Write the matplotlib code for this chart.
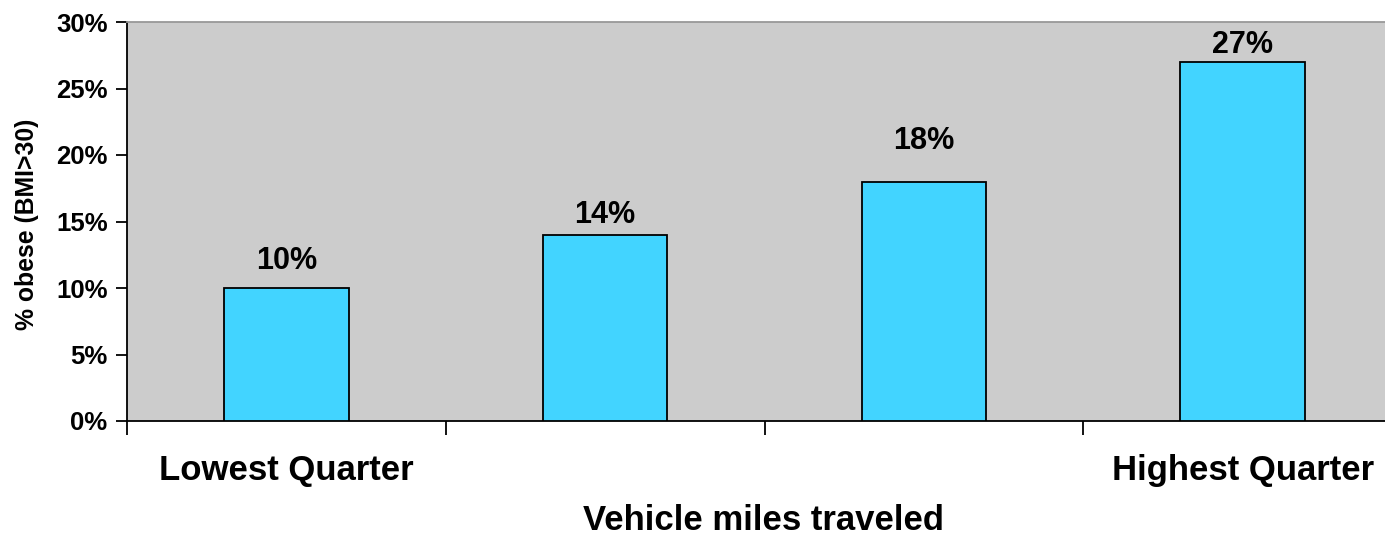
import matplotlib
matplotlib.use("Agg")
import matplotlib.pyplot as plt
from matplotlib.ticker import FixedLocator, PercentFormatter

plt.rcParams['font.family'] = ['Liberation Sans', 'DejaVu Sans']
plt.rcParams['font.weight'] = 'bold'

# obesity share by quarter of vehicle miles traveled
quarters = ["Lowest Quarter", "", "", "Highest Quarter"]
obese_pct = [10, 14, 18, 27]
label_offsets = [19.5, 14, 29.5, 12.5]   # points from bar top to label centre

BAR = "#42D4FF"
BG = "#CCCCCC"

fig = plt.figure(figsize=(13.85, 5.34), dpi=100)
ax = fig.add_axes([127 / 1385, 113 / 534, 1275 / 1385, 399 / 534])
ax.set_facecolor(BG)

x = range(len(obese_pct))
ax.bar(x, obese_pct, width=0.39, color=BAR, edgecolor="black", linewidth=1.3, zorder=3)

for xi, v, off in zip(x, obese_pct, label_offsets):
    ax.annotate(f"{v}%", (xi, v), xytext=(0, off), textcoords="offset points",
                ha="center", va="center", fontsize=22, fontweight="bold")

ax.set_xlim(-0.5, len(obese_pct) - 0.5)
ax.set_ylim(0, 30)
ax.yaxis.set_major_locator(FixedLocator(range(0, 31, 5)))
ax.yaxis.set_major_formatter(PercentFormatter(decimals=0))
ax.tick_params(axis="y", direction="out", length=8, width=1.3, labelsize=18.5, pad=6)

# category labels at centers, tick marks at boundaries
ax.set_xticks(list(x))
ax.set_xticklabels(quarters, fontsize=25, fontweight="bold")
ax.set_xticks([i - 0.5 for i in range(len(obese_pct) + 1)], minor=True)
ax.tick_params(axis="x", which="major", length=0, pad=24)
ax.tick_params(axis="x", which="minor", direction="out", length=10, width=1.3)

for s in ("left", "bottom"):
    ax.spines[s].set_linewidth(1.3)
    ax.spines[s].set_color("black")
ax.spines["top"].set_color("#999999")
ax.spines["top"].set_linewidth(1.3)
ax.spines["right"].set_visible(False)

ax.set_xlabel("Vehicle miles traveled", fontsize=25, fontweight="bold", va="center")
ax.xaxis.set_label_coords(0.4996, -0.250)
ax.set_ylabel("% obese (BMI>30)", fontsize=17.8, fontweight="bold", va="center")
ax.yaxis.set_label_coords(-0.0784, 0.494)

fig.savefig("out.png", dpi=100, facecolor="white")
